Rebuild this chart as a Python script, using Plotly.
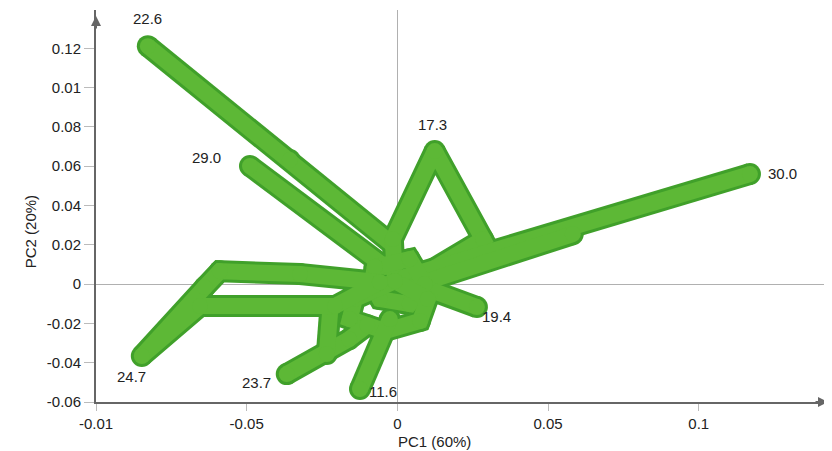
import plotly.graph_objects as go

# ---- data: trajectory arms (PC1, PC2) ----
arm_226_x = [-0.0018, -0.0357, -0.0828]
arm_226_y = [0.0204, 0.0631, 0.1211]
arm_290_x = [-0.0041, -0.0489]
arm_290_y = [0.0087, 0.0601]
arm_173_x = [-0.0008, -0.0015, 0.0124, 0.0284, 0.0100]
arm_173_y = [0.0015, 0.0229, 0.0677, 0.0229, 0.0060]
arm_300_x = [0.0025, 0.1170]
arm_300_y = [0.0036, 0.0560]
arm_300b_x = [0.0041, 0.0582]
arm_300b_y = [-0.0015, 0.0254]
arm_194_x = [0.0075, 0.0264]
arm_194_y = [-0.0010, -0.0117]
core_x = [-0.0075, 0.0041, 0.0091, 0.0041, -0.0058, -0.0085, -0.0075]
core_y = [0.0087, 0.0127, 0.0000, -0.0102, -0.0076, 0.0000, 0.0087]
ring_x = [-0.0008, -0.0141, -0.0158, -0.0041, 0.0075, 0.0101, -0.0008]
ring_y = [0.0015, -0.0076, -0.0178, -0.0239, -0.0188, -0.0076, 0.0015]
arm_116_x = [-0.0025, -0.0124]
arm_116_y = [-0.0178, -0.0534]
arm_237_x = [-0.0100, -0.0160, -0.0367]
arm_237_y = [-0.0210, -0.0280, -0.0458]
link_x = [-0.0222, -0.0234]
link_y = [-0.0117, -0.0356]
arm_247_x = [-0.0058, -0.0207, -0.0655, -0.0848, -0.0639, -0.0589, -0.0323, -0.0058]
arm_247_y = [0.0010, -0.0112, -0.0112, -0.0366, -0.0015, 0.0066, 0.0051, 0.0010]

arms = [
    (arm_226_x, arm_226_y), (arm_290_x, arm_290_y), (arm_173_x, arm_173_y),
    (arm_300_x, arm_300_y), (arm_300b_x, arm_300b_y), (arm_194_x, arm_194_y),
    (core_x, core_y), (ring_x, ring_y), (arm_116_x, arm_116_y),
    (arm_237_x, arm_237_y), (link_x, link_y), (arm_247_x, arm_247_y),
]

# endpoint labels
label_text = ["22.6", "29.0", "17.3", "30.0", "19.4", "11.6", "23.7", "24.7"]
label_x = [arm_226_x[-1], arm_290_x[-1], arm_173_x[2], arm_300_x[-1],
           arm_194_x[-1], arm_116_x[-1], arm_237_x[-1], arm_247_x[3]]
label_y = [arm_226_y[-1], arm_290_y[-1], arm_173_y[2], arm_300_y[-1],
           arm_194_y[-1], arm_116_y[-1], arm_237_y[-1], arm_247_y[3]]
label_dx = [0, -43, -2, 33, 20, 23, -30, -10]
label_dy = [28, 9, 27, 1, -9, -2, -8, -20]

x_tickvals = [-0.1, -0.05, 0, 0.05, 0.1]
x_ticktext = ["-0.01", "-0.05", "0", "0.05", "0.1"]
y_tickvals = [-0.06, -0.04, -0.02, 0, 0.02, 0.04, 0.06, 0.08, 0.10, 0.12]
y_ticktext = ["-0.06", "-0.04", "-0.02", "0", "0.02", "0.04", "0.06", "0.08", "0.01", "0.12"]
x_title = "PC1 (60%)"
y_title = "PC2 (20%)"

EDGE = "#40a02a"
FILL = "#5db836"
FONT = "Liberation Sans, Arial, sans-serif"
TXT = "#222"

fig = go.Figure()
for ax_, ay_ in arms:
    fig.add_trace(go.Scatter(x=ax_, y=ay_, mode="lines+markers",
                             line=dict(color=EDGE, width=22),
                             marker=dict(color=EDGE, size=22),
                             hoverinfo="skip", showlegend=False))
for ax_, ay_ in arms:
    fig.add_trace(go.Scatter(x=ax_, y=ay_, mode="lines+markers",
                             line=dict(color=FILL, width=16),
                             marker=dict(color=FILL, size=16),
                             hoverinfo="skip", showlegend=False))

for t, x, y, dx, dy in zip(label_text, label_x, label_y, label_dx, label_dy):
    fig.add_annotation(x=x, y=y, text=t, showarrow=False, xshift=dx, yshift=dy,
                       font=dict(family=FONT, size=15, color=TXT))

# axis titles
fig.add_annotation(xref="paper", yref="paper", x=0.463, y=0, yanchor="top",
                   yshift=-29, text=x_title, showarrow=False,
                   font=dict(family=FONT, size=15, color=TXT))
fig.add_annotation(xref="paper", yref="paper", x=-0.104, y=0.434, textangle=-90,
                   text=y_title, showarrow=False,
                   font=dict(family=FONT, size=15, color=TXT))

# axis arrowheads
fig.add_annotation(xref="paper", yref="paper", x=1.0, y=0, ax=-14, ay=0,
                   text="", showarrow=True,
                   arrowhead=2, arrowsize=1, arrowwidth=2, arrowcolor="#666")
fig.add_annotation(xref="paper", yref="paper", x=0, y=0.985, ax=0, ay=14,
                   text="", showarrow=True,
                   arrowhead=2, arrowsize=1, arrowwidth=2, arrowcolor="#666")

# the page body adds an 8px margin: size the figure to fit inside 832x451
fig.update_layout(
    width=824, height=443,
    margin=dict(l=88, r=4, t=2, b=49),
    plot_bgcolor="white", paper_bgcolor="white",
    font=dict(family=FONT, size=15, color=TXT),
    xaxis=dict(range=[-0.1, 0.1429], tickvals=x_tickvals, ticktext=x_ticktext,
               automargin=False,
               showgrid=False, zeroline=True, zerolinecolor="#b0b0b0", zerolinewidth=1,
               showline=True, linecolor="#666", linewidth=2,
               ticks="outside", ticklen=7, tickcolor="#bbb", tickwidth=1,
               tickfont=dict(size=15)),
    yaxis=dict(range=[-0.06, 0.1395], tickvals=y_tickvals, ticktext=y_ticktext,
               automargin=False,
               showgrid=False, zeroline=True, zerolinecolor="#b0b0b0", zerolinewidth=1,
               showline=True, linecolor="#666", linewidth=2,
               ticks="outside", ticklen=10, tickcolor="#bbb", tickwidth=1,
               tickfont=dict(size=15)),
)

fig.write_html("out.html")
